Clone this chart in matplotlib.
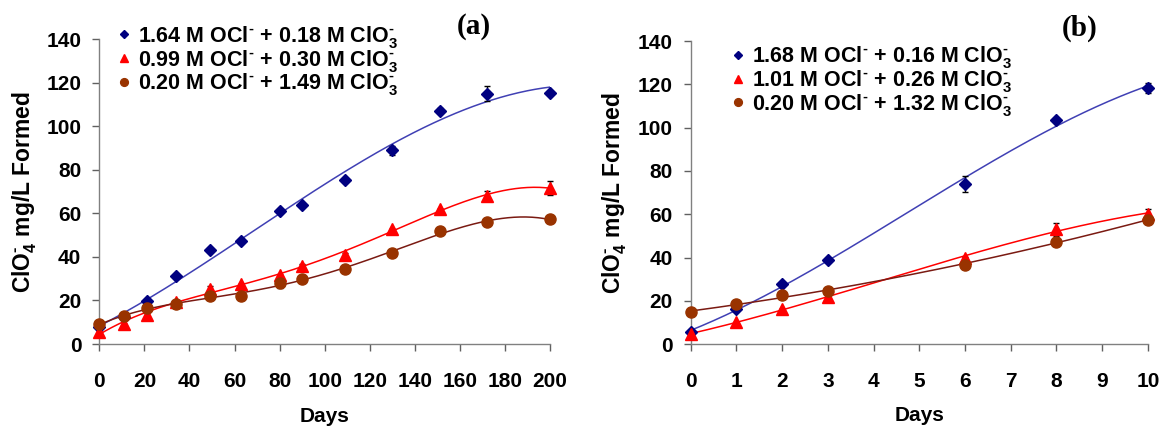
import numpy as np
import matplotlib
matplotlib.use("Agg")
import matplotlib.pyplot as plt

plt.rcParams['font.family'] = ['Liberation Sans', 'DejaVu Sans']
plt.rcParams['font.weight'] = 'bold'
plt.rcParams['mathtext.fontset'] = 'custom'
plt.rcParams['mathtext.rm'] = 'Liberation Sans:bold'
plt.rcParams['mathtext.bf'] = 'Liberation Sans:bold'
plt.rcParams['mathtext.default'] = 'rm'

# panel (a)
days_a = [0, 11, 21, 34, 49, 63, 80, 90, 109, 130, 151, 172, 200]
blue_a = [7.9, 12.5, 19.7, 31.3, 43.0, 47.4, 61.3, 63.6, 75.1, 88.9, 107.2, 115.0, 115.3]
blue_a_err = [0, 0, 0, 0, 0, 0, 0, 0, 0.8, 2.0, 1.0, 3.4, 1.0]
red_a = [5.7, 9.0, 13.3, 19.4, 25.5, 27.4, 31.7, 35.8, 40.8, 52.6, 62.2, 67.9, 71.6]
red_a_err = [0, 0, 0, 0, 1.2, 0, 0, 1.0, 1.0, 0, 0, 2.3, 3.4]
brown_a = [9.0, 12.8, 16.4, 18.3, 22.0, 22.0, 28.1, 29.7, 34.4, 41.9, 51.8, 55.8, 57.2]
brown_a_err = [0, 0, 0, 0, 0, 0, 2.5, 0, 1.5, 1.5, 0, 0.5, 0]
labels_a = [r'1.64 M OCl$^{\text{-}}$ + 0.18 M ClO$_{3}^{\text{-}}$',
            r'0.99 M OCl$^{\text{-}}$ + 0.30 M ClO$_{3}^{\text{-}}$',
            r'0.20 M OCl$^{\text{-}}$ + 1.49 M ClO$_{3}^{\text{-}}$']

# panel (b)
days_b = [0, 1, 2, 3, 6, 8, 10]
blue_b = [5.7, 16.0, 27.6, 38.8, 74.0, 103.7, 118.5]
blue_b_err = [0, 0, 0, 1.0, 3.7, 0.8, 2.4]
red_b = [4.5, 10.3, 16.3, 21.7, 39.9, 53.1, 60.3]
red_b_err = [0, 0, 0, 0, 0.5, 3.0, 2.0]
brown_b = [14.8, 18.3, 22.6, 24.6, 36.5, 47.3, 57.4]
brown_b_err = [0, 0, 0, 0, 0, 0.5, 1.0]
labels_b = [r'1.68 M OCl$^{\text{-}}$ + 0.16 M ClO$_{3}^{\text{-}}$',
            r'1.01 M OCl$^{\text{-}}$ + 0.26 M ClO$_{3}^{\text{-}}$',
            r'0.20 M OCl$^{\text{-}}$ + 1.32 M ClO$_{3}^{\text{-}}$']

styles = [('D', '#000080', '#4040b4', 6),
          ('^', '#ff0000', '#ff0000', 8),
          ('o', '#993300', '#7a1a12', 8)]


def drawPanel(ax, days, series, errs, labels, degs, xmax, xstep, legpos):
    xs = np.linspace(0, xmax, 300)
    handles = []
    for (y, e, deg, (m, mc, lc, ms)) in zip(series, errs, degs, styles):
        coef = np.polyfit(days, y, deg)
        ax.plot(xs, np.polyval(coef, xs), color=lc, lw=1.1, zorder=2)
        ax.errorbar(days, y, yerr=e, fmt='none', ecolor='black', elinewidth=1,
                    capsize=2.5, capthick=1, zorder=3, clip_on=False)
        h, = ax.plot(days, y, m, color=mc, ms=ms, ls='none', zorder=4, clip_on=False)
        handles.append(h)
    ax.legend(handles, labels, loc='upper left', bbox_to_anchor=legpos, frameon=False,
              fontsize=15.5, borderpad=0, borderaxespad=0, handlelength=0.7,
              handletextpad=0.3, labelspacing=-0.1, markerscale=0.7)
    ax.set_xlim(0, xmax)
    ax.set_ylim(0, 140)
    ax.set_xticks(np.arange(0, xmax + xstep, xstep))
    ax.set_yticks(np.arange(0, 141, 20))
    for s in ['top', 'right']:
        ax.spines[s].set_visible(False)
    for s in ['left', 'bottom']:
        ax.spines[s].set_color('#808080')
        ax.spines[s].set_linewidth(1)
    ax.tick_params(axis='x', direction='out', length=5, width=1, color='#606060',
                   pad=15, labelsize=15)
    ax.tick_params(axis='y', direction='out', length=5, width=1, color='#606060',
                   pad=8, labelsize=15)
    for t in ax.get_xticklabels() + ax.get_yticklabels():
        t.set_fontweight('bold')
    ax.set_xlabel('Days', fontsize=15, fontweight='bold')
    ax.set_ylabel(r'ClO$_{4}^{\text{-}}$ mg/L Formed', fontsize=16.5, fontweight='bold')
    ax.xaxis.set_label_coords(0.5, -0.205)
    ax.yaxis.set_label_coords(-0.135, 0.5)


fig = plt.figure(figsize=(11.62, 4.29), dpi=100)
ax1 = fig.add_axes([0.0855, 0.198, 0.3879, 0.711])
ax2 = fig.add_axes([0.5944, 0.198, 0.3935, 0.706])

drawPanel(ax1, days_a, [blue_a, red_a, brown_a], [blue_a_err, red_a_err, brown_a_err],
          labels_a, [3, 4, 4], 200, 20, (0.037, 1.05))
drawPanel(ax2, days_b, [blue_b, red_b, brown_b], [blue_b_err, red_b_err, brown_b_err],
          labels_b, [3, 3, 2], 10, 1, (0.0875, 0.99))

fig.text(473.5 / 1162, 1 - 27 / 429, '(a)', family='Liberation Serif', fontweight='bold',
         fontsize=21, ha='center', va='center')
fig.text(1080 / 1162, 1 - 28 / 429, '(b)', family='Liberation Serif', fontweight='bold',
         fontsize=21, ha='center', va='center')

fig.savefig('out.png', dpi=100)
